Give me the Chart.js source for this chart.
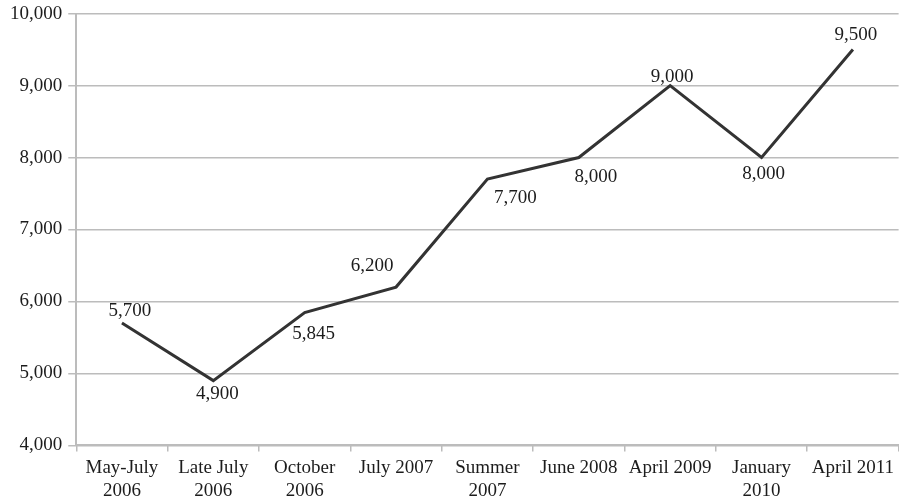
<!DOCTYPE html>
<html>
<head>
<meta charset="utf-8">
<script src="https://cdn.jsdelivr.net/npm/chart.js@4.4.1/dist/chart.umd.min.js"></script>
<style>
  html, body { margin: 0; padding: 0; background: #fff; overflow: hidden; }
  #wrap { width: 899px; height: 507px; position: relative; }
</style>
</head>
<body>
<div id="wrap"><canvas id="lineChart"></canvas></div>
<script>
const periods = [
    ['May-July', '2006'], ['Late July', '2006'], ['October', '2006'], 'July 2007',
    ['Summer', '2007'], 'June 2008', 'April 2009', ['January', '2010'], 'April 2011'
];
const counts = [5700, 4900, 5845, 6200, 7700, 8000, 9000, 8000, 9500];
const yTicks = [4000, 5000, 6000, 7000, 8000, 9000, 10000];

// where each value label sits relative to its point (px)
const labelOffsets = [[8, -12], [4, 13], [9, 21], [-24, -21], [28, 19], [17, 19], [2, -9], [2, 16], [3, -15]];

const serif = '"Liberation Serif", "Times New Roman", serif';
const inkColor = '#1c1c1c';
const gridColor = '#bcbcbc';

const valueLabels = {
    id: 'valueLabels',
    afterDatasetsDraw(chart) {
        const ctx = chart.ctx;
        const meta = chart.getDatasetMeta(0);
        ctx.save();
        ctx.font = '19px ' + serif;
        ctx.fillStyle = inkColor;
        ctx.textAlign = 'center';
        ctx.textBaseline = 'middle';
        meta.data.forEach((pt, i) => {
            const [dx, dy] = labelOffsets[i];
            ctx.fillText(counts[i].toLocaleString('en-US'), pt.x + dx, pt.y + dy);
        });
        ctx.restore();
    }
};

const ctx = document.getElementById('lineChart').getContext('2d');
new Chart(ctx, {
    type: 'line',
    data: {
        labels: periods,
        datasets: [{
            data: counts,
            borderColor: '#333333',
            borderWidth: 3,
            pointRadius: 0,
            tension: 0,
            fill: false
        }]
    },
    options: {
        responsive: true,
        maintainAspectRatio: false,
        animation: false,
        layout: { padding: { top: 0, left: 4, right: 0, bottom: 0 } },
        plugins: { legend: { display: false }, tooltip: { enabled: false } },
        scales: {
            x: {
                offset: true,
                grid: { offset: true, drawOnChartArea: false, drawTicks: true, tickLength: 6, color: gridColor, lineWidth: 1.5 },
                border: { color: gridColor, width: 2 },
                ticks: { color: inkColor, font: { family: serif, size: 19 }, padding: 5, maxRotation: 0, autoSkip: false }
            },
            y: {
                min: 4000,
                max: 10000,
                afterBuildTicks: axis => { axis.ticks = yTicks.map(v => ({ value: v })); },
                grid: { color: gridColor, lineWidth: 1.5, tickLength: 8 },
                border: { color: gridColor, width: 2 },
                ticks: {
                    color: inkColor,
                    font: { family: serif, size: 19, lineHeight: 0.8 },
                    padding: 6,
                    callback: v => v.toLocaleString('en-US')
                }
            }
        }
    },
    plugins: [valueLabels]
});
</script>
</body>
</html>
